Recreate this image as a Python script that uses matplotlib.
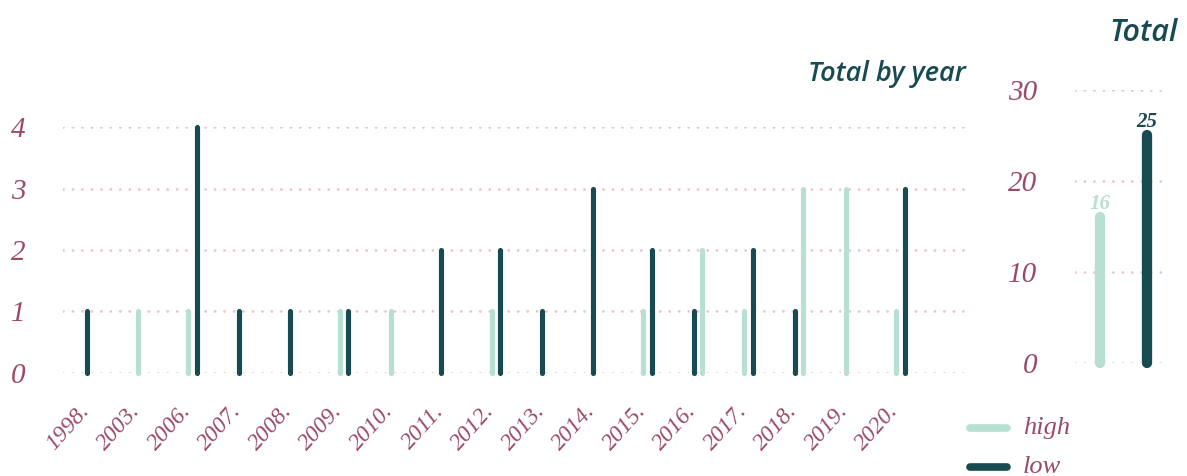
import matplotlib
matplotlib.use("Agg")
import matplotlib.pyplot as plt
from matplotlib.lines import Line2D
import matplotlib.transforms as mtransforms

# data
years = ['1998.', '2003.', '2006.', '2007.', '2008.', '2009.', '2010.', '2011.', '2012.',
         '2013.', '2014.', '2015.', '2016.', '2017.', '2018.', '2019.', '2020.']
high = [0, 1, 1, 0, 0, 1, 1, 0, 1, 0, 0, 1, 2, 1, 3, 3, 1]
low = [1, 0, 4, 1, 1, 1, 0, 2, 2, 1, 3, 2, 1, 2, 1, 0, 3]
low_first = ['2016.', '2018.']  # years where the "low" bar comes first
series = ['high', 'low']
totals = [sum(high), sum(low)]
left_ticks = [0, 1, 2, 3, 4]
right_ticks = [0, 10, 20, 30]

MINT = '#b7dfd2'
TEAL = '#174a51'
MAUVE = '#9b4a63'
DOTS = '#efbfcc'
colors = {'high': MINT, 'low': TEAL}

W, H = 1187, 476
fig = plt.figure(figsize=(W / 100, H / 100), dpi=100)


def box(x0, y_top, x1, y_bot):
    # pixel box -> figure fraction rect
    return [x0 / W, 1 - y_bot / H, (x1 - x0) / W, (y_bot - y_top) / H]


def dotted(a, t):
    a.axhline(t, color=DOTS, lw=2.0, linestyle=(0, (0.01, 3.4)),
              dash_capstyle='round', zorder=1)


serif = dict(family='Liberation Serif', style='italic')
title_font = dict(family='Open Sans', style='italic', weight='semibold')

# ---- left chart: total by year ----
ax = fig.add_axes(box(63, 127.3, 965, 372.6))
step = 50.55
ax.set_xlim(-(87.3 - 63) / step, -(87.3 - 63) / step + 902 / step)
ax.set_ylim(0, 4)
slot = 8.4 / step
for i, yr in enumerate(years):
    vals = {'high': high[i], 'low': low[i]}
    order = ['low', 'high'] if yr in low_first else ['high', 'low']
    present = [s for s in order if vals[s] > 0]
    for k, s in enumerate(present):
        x = i + k * slot
        ax.plot([x, x], [0, vals[s]], color=colors[s], lw=3.7,
                solid_capstyle='round', clip_on=False, zorder=3)
for t in left_ticks:
    dotted(ax, t)
ax.set_yticks(left_ticks)
ax.set_yticklabels([str(t) for t in left_ticks], fontsize=21, color=MAUVE, **serif)
ax.set_xticks(range(len(years)))
ax.set_xticklabels(years, fontsize=17, color=MAUVE, rotation=48,
                   ha='right', va='baseline', rotation_mode='anchor', **serif)
ax.tick_params(axis='y', length=0, pad=27)
ax.tick_params(axis='x', length=0, pad=28)
for lab in ax.get_xticklabels():
    lab.set_transform(lab.get_transform() + mtransforms.ScaledTranslation(3 / 100, 0, fig.dpi_scale_trans))
for sp in ax.spines.values():
    sp.set_visible(False)
fig.text(966 / W, 1 - 81 / H, 'Total by year', ha='right', va='baseline',
         fontsize=19.5, color=TEAL, **title_font)

# ---- right chart: total ----
ax2 = fig.add_axes(box(1075, 90, 1166, 362.7))
ax2.set_xlim(-(1100 - 1075) / 47, (1166 - 1100) / 47)
ax2.set_ylim(0, 30)
for j, s in enumerate(series):
    ax2.plot([j, j], [0, totals[j]], color=colors[s], lw=7.4,
             solid_capstyle='round', clip_on=False, zorder=3)
    ax2.annotate(str(totals[j]), (j, totals[j]), xytext=(0, 6), textcoords='offset points',
                 ha='center', va='baseline', fontsize=15, color=colors[s],
                 family='Liberation Serif', style='italic', weight='bold')
for t in right_ticks:
    dotted(ax2, t)
ax2.set_xticks([])
ax2.set_yticks(right_ticks)
ax2.set_yticklabels([str(t) for t in right_ticks], fontsize=21, color=MAUVE, **serif)
ax2.tick_params(axis='y', length=0, pad=27)
for sp in ax2.spines.values():
    sp.set_visible(False)
fig.text(1178 / W, 1 - 41 / H, 'Total', ha='right', va='baseline',
         fontsize=22, color=TEAL, **title_font)

# ---- legend ----
for k, s in enumerate(series):
    y = 1 - (428 + k * 39) / H
    fig.add_artist(Line2D([970 / W, 1007 / W], [y, y], color=colors[s], lw=5.5,
                          solid_capstyle='round'))
    fig.text(1023 / W, y, s, ha='left', va='center', fontsize=19, color=MAUVE, **serif)

fig.savefig('out.png', dpi=100)
